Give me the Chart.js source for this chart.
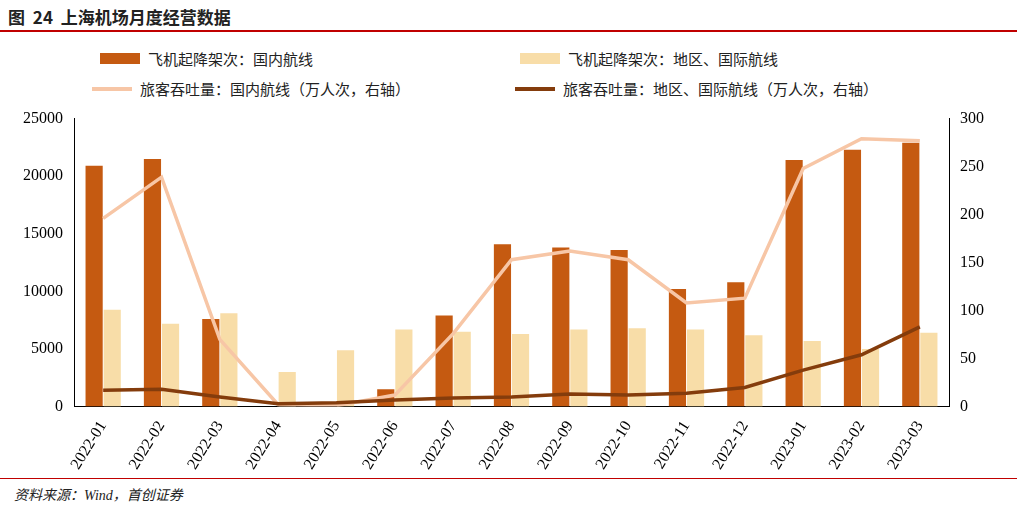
<!DOCTYPE html>
<html><head><meta charset="utf-8">
<script src="https://cdn.jsdelivr.net/npm/chart.js@4"></script>
<style>
body{margin:0;width:1017px;height:506px;background:#fff;position:relative;overflow:hidden;font-family:"Noto Sans CJK SC",sans-serif}
#title{position:absolute;left:8px;top:4px;font-size:17px;font-weight:bold;color:#222;word-spacing:4px}
#tl{position:absolute;left:0;top:30px;width:1017px;height:2px;background:#C00000}
#bl{position:absolute;left:0;top:478px;width:1017px;height:1px;background:#C00000}
#src{position:absolute;left:14px;top:484px;font-size:14px;font-style:italic;color:#222;font-family:"Liberation Serif","Noto Sans CJK SC",serif}
#wrap{position:absolute;left:0;top:106px;width:1017px;height:370px}
.lg{position:absolute;font-size:15px;color:#222;display:flex;align-items:center}
.sw{width:40px;height:11px;margin-right:8px}
.ln{width:40px;height:4px;margin-right:8px}
</style></head><body>
<div id="title">图 24 上海机场月度经营数据</div><div id="tl"></div>
<div class="lg" style="left:100px;top:48px"><div class="sw" style="background:#C55A11"></div>飞机起降架次：国内航线</div>
<div class="lg" style="left:520px;top:48px"><div class="sw" style="background:#F8DDA8"></div>飞机起降架次：地区、国际航线</div>
<div class="lg" style="left:92px;top:78px"><div class="ln" style="background:#F7C6A6"></div>旅客吞吐量：国内航线（万人次，右轴）</div>
<div class="lg" style="left:515px;top:78px"><div class="ln" style="background:#843C0C"></div>旅客吞吐量：地区、国际航线（万人次，右轴）</div>
<div id="wrap"><canvas id="c"></canvas></div>
<div id="bl"></div>
<div id="src">资料来源：Wind，首创证券</div>
<script>
const categories=["2022-01","2022-02","2022-03","2022-04","2022-05","2022-06","2022-07","2022-08","2022-09","2022-10","2022-11","2022-12","2023-01","2023-02","2023-03"];
const flightsDomestic=[20900,21500,7600,0,0,1500,7900,14100,13800,13600,10200,10800,21400,22300,22900];
const flightsIntl=[8400,7200,8100,3000,4900,6700,6500,6300,6700,6800,6700,6200,5700,5000,6400];
const paxDomestic=[196,239,70,2,1,12,76,153,162,153,108,113,248,279,277];
const paxIntl=[17,18,10,3,4,7,9,10,13,12,14,20,38,54,83];
const tf={family:"Liberation Serif",size:16};
new Chart(document.getElementById('c'),{
data:{labels:categories,datasets:[
{type:'line',data:paxIntl,yAxisID:'y1',borderColor:'#843C0C',borderWidth:3.5,pointRadius:0,order:0},
{type:'line',data:paxDomestic,yAxisID:'y1',borderColor:'#F7C6A6',borderWidth:3.5,pointRadius:0,order:1},
{type:'bar',data:flightsDomestic,yAxisID:'y',backgroundColor:'#C55A11',categoryPercentage:0.62,barPercentage:0.95,order:2},
{type:'bar',data:flightsIntl,yAxisID:'y',backgroundColor:'#F8DDA8',categoryPercentage:0.62,barPercentage:0.95,order:3}
]},
options:{responsive:true,maintainAspectRatio:false,animation:false,
layout:{padding:{top:2,left:20,right:30,bottom:0}},
plugins:{legend:{display:false},tooltip:{enabled:false}},
scales:{
x:{grid:{display:false},border:{color:'#000'},ticks:{font:tf,color:'#000',maxRotation:58,minRotation:58}},
y:{min:0,max:25000,ticks:{stepSize:5000,font:tf,color:'#000',callback:v=>String(v)},grid:{display:false},border:{color:'#000'}},
y1:{position:'right',min:0,max:300,ticks:{stepSize:50,font:tf,color:'#000'},grid:{display:false},border:{color:'#000'}}
}}});
</script></body></html>
